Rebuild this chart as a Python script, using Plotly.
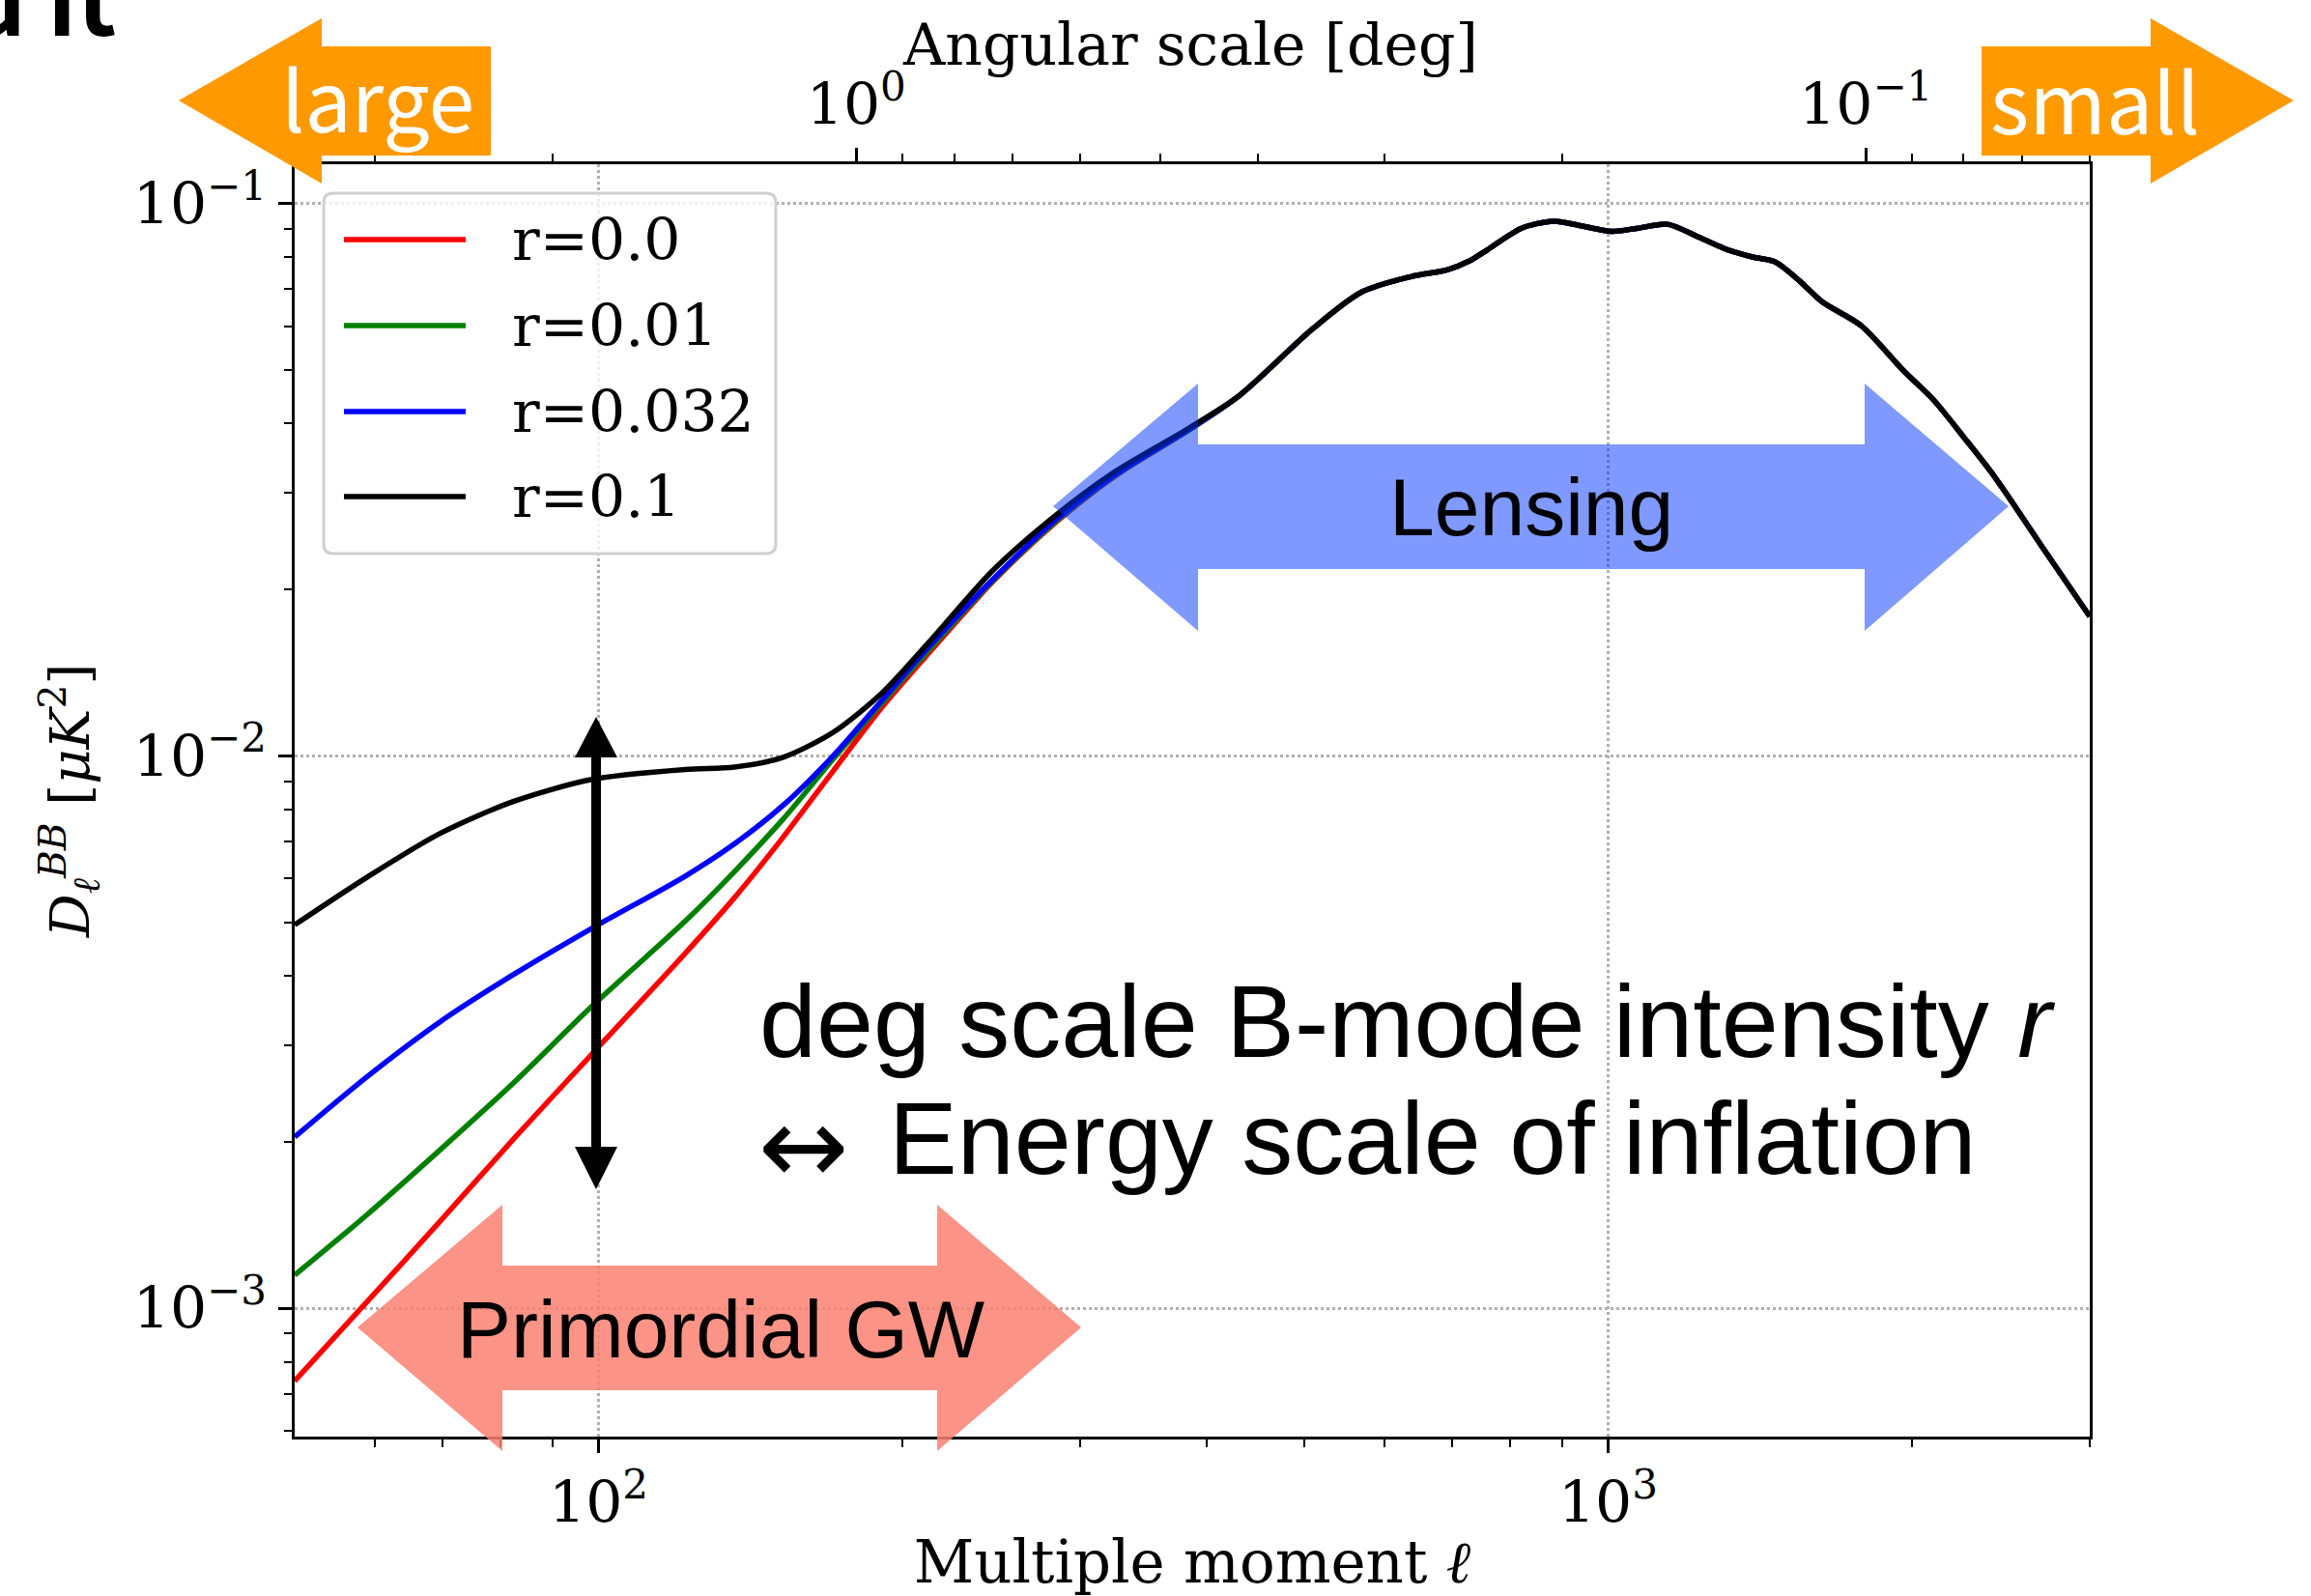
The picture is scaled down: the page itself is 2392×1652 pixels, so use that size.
import math
import plotly.graph_objects as go

# ---------------- data ----------------
ell = [50, 58.8, 69.6, 82.3, 98.5, 121.9, 136.3, 152.4, 170.6, 190.8, 212.6, 245.9,
       284.5, 325.4, 385, 431, 510, 570, 638, 694, 729, 760, 820, 883, 940, 1008,
       1070, 1145, 1230, 1314, 1390, 1463, 1545, 1630, 1780, 1963, 2104, 2253, 2413,
       2688, 3000]

high_ell_tail = [0.0449, 0.0594, 0.0692, 0.0738, 0.0760, 0.0788, 0.0826, 0.0902,
                 0.0930, 0.0912, 0.0891, 0.0903, 0.0918, 0.0870, 0.0825, 0.0801,
                 0.0785, 0.0727, 0.0664, 0.0602, 0.0498, 0.0440, 0.0377, 0.0321,
                 0.0240, 0.0179]

d_r0 = [7.39e-4, 1.022e-3, 1.435e-3, 2.023e-3, 2.887e-3, 4.398e-3, 5.537e-3, 7.137e-3,
        9.376e-3, 0.01225, 0.0154, 0.0207, 0.0266, 0.0322, 0.0390] + high_ell_tail
d_r001 = [1.149e-3, 1.471e-3, 1.933e-3, 2.557e-3, 3.524e-3, 5.028e-3, 6.175e-3, 7.694e-3,
          9.851e-3, 0.01247, 0.0156, 0.0208, 0.0267, 0.0323, 0.0390] + high_ell_tail
d_r0032 = [2.044e-3, 2.616e-3, 3.299e-3, 4.019e-3, 4.878e-3, 6.064e-3, 6.932e-3, 8.149e-3,
           9.991e-3, 0.01261, 0.0158, 0.0209, 0.0269, 0.0324, 0.0391] + high_ell_tail
d_r01 = [4.947e-3, 6.014e-3, 7.237e-3, 8.273e-3, 9.073e-3, 9.456e-3, 9.55e-3, 9.951e-3,
         0.01103, 0.0130, 0.0161, 0.0217, 0.0274, 0.0328, 0.0393] + high_ell_tail

series_names = ["r=0.0", "r=0.01", "r=0.032", "r=0.1"]
series_values = [d_r0, d_r001, d_r0032, d_r01]
series_colors = ["#ff0000", "#008000", "#0000ff", "#000000"]

x_major = [100, 1000]
x_major_text = ["10<sup>2</sup>", "10<sup>3</sup>"]
x_minor = [60, 70, 80, 90, 200, 300, 400, 500, 600, 700, 800, 900, 2000, 3000]
y_major = [1e-3, 1e-2, 1e-1]
y_major_text = ["10<sup>\u22123</sup>", "10<sup>\u22122</sup>", "10<sup>\u22121</sup>"]
y_minor = [6e-4, 7e-4, 8e-4, 9e-4] + [k * 1e-3 for k in range(2, 10)] + [k * 1e-2 for k in range(2, 10)]
t_major = [1, 0.1]
t_major_text = ["10<sup>0</sup>", "10<sup>\u22121</sup>"]
t_minor = [3, 2, 0.9, 0.8, 0.7, 0.6, 0.5, 0.4, 0.3, 0.2, 0.09, 0.08, 0.07, 0.06]

ELL_MIN, ELL_MAX = 50, 3000
D_MIN, D_MAX = 5.86e-4, 0.1179

# ---------------- geometry helpers ----------------
W, H = 2392, 1652
PL, PR, PT, PB = 305, 2163, 170, 1487


def paper(x, y):
    return (x - PL) / (PR - PL), (PB - y) / (PB - PT)


def poly(points):
    s = ""
    for i, (x, y) in enumerate(points):
        u, v = paper(x, y)
        s += ("M" if i == 0 else "L") + f"{u:.5f},{v:.5f} "
    return s + "Z"


SERIF = "DejaVu Serif"
SANS = "Liberation Sans, Arial, sans-serif"
JP = "Noto Sans CJK JP, Noto Sans, sans-serif"
LW = 5.5

fig = go.Figure()
for name, vals, col in zip(series_names, series_values, series_colors):
    fig.add_trace(go.Scatter(x=ell, y=vals, mode="lines", name=name,
                             line=dict(color=col, width=LW, shape="spline", smoothing=0.8),
                             showlegend=False, hoverinfo="skip"))
# carrier for the top (angular scale) axis
fig.add_trace(go.Scatter(x=[1], y=[0.01], xaxis="x2", yaxis="y", mode="markers",
                         marker=dict(opacity=0), showlegend=False, hoverinfo="skip"))

axis_common = dict(showline=True, linewidth=3, linecolor="black", ticks="outside",
                   ticklen=14, tickwidth=2.5, tickcolor="black", zeroline=False,
                   tickfont=dict(family=SERIF, size=60, color="black"))
grid = dict(showgrid=True, gridcolor="#b0b0b0", griddash="dot", gridwidth=2.5)
minor_common = dict(ticks="outside", ticklen=8, tickwidth=2, tickcolor="black", showgrid=False)

fig.update_layout(
    width=W, height=H, autosize=False,
    margin=dict(l=PL, r=W - PR, t=PT, b=H - PB, pad=0),
    paper_bgcolor="white", plot_bgcolor="white",
    showlegend=False,
    xaxis=dict(type="log", range=[math.log10(ELL_MIN), math.log10(ELL_MAX)],
               tickmode="array", tickvals=x_major, ticktext=x_major_text,
               minor=dict(tickmode="array", tickvals=x_minor, **minor_common),
               title=dict(text="Multiple moment <i>\u2113</i>",
                          font=dict(family=SERIF, size=61, color="black"), standoff=8),
               **axis_common, **grid),
    xaxis2=dict(type="log", overlaying="x", side="top", anchor="y",
                range=[math.log10(180 / ELL_MIN), math.log10(180 / ELL_MAX)],
                tickmode="array", tickvals=t_major, ticktext=t_major_text,
                minor=dict(tickmode="array", tickvals=t_minor, **minor_common),
                showgrid=False, **axis_common),
    yaxis=dict(type="log", range=[math.log10(D_MIN), math.log10(D_MAX)],
               tickmode="array", tickvals=y_major, ticktext=y_major_text,
               minor=dict(tickmode="array", tickvals=y_minor, **minor_common),
               mirror=True,
               title=dict(text="<i>D</i><sub><i>\u2113</i></sub><sup><i>BB</i></sup> [<i>\u03bcK</i><sup>2</sup>]",
                          font=dict(family=SERIF, size=56, color="black"), standoff=28),
               **axis_common, **grid),
)

shapes = []
# orange direction arrows (outside the axes)
shapes.append(dict(type="path", xref="paper", yref="paper", layer="above",
                   path=poly([(185, 104), (333, 19), (333, 48), (508, 48), (508, 161),
                              (333, 161), (333, 190)]),
                   fillcolor="#ff9900", line=dict(width=0)))
shapes.append(dict(type="path", xref="paper", yref="paper", layer="above",
                   path=poly([(2051, 48), (2226, 48), (2226, 19), (2374, 104), (2226, 190),
                              (2226, 161), (2051, 161)]),
                   fillcolor="#ff9900", line=dict(width=0)))
# lensing double arrow
shapes.append(dict(type="path", xref="paper", yref="paper", layer="above",
                   path=poly([(1090, 524), (1240, 397), (1240, 460), (1930, 460), (1930, 397),
                              (2079, 524), (1930, 653), (1930, 589), (1240, 589), (1240, 653)]),
                   fillcolor="rgba(0,51,255,0.5)", line=dict(width=0)))
# primordial GW double arrow
shapes.append(dict(type="path", xref="paper", yref="paper", layer="above",
                   path=poly([(370, 1374), (520, 1247), (520, 1310), (970, 1310), (970, 1247),
                              (1119, 1374), (970, 1502), (970, 1439), (520, 1439), (520, 1502)]),
                   fillcolor="rgba(250,128,114,0.85)", line=dict(width=0)))
# vertical black double arrow at ell = 100
shapes.append(dict(type="path", xref="paper", yref="paper", layer="above",
                   path=poly([(617, 742), (639, 784), (622, 784), (622, 1187), (639, 1187),
                              (617, 1231), (595, 1187), (612, 1187), (612, 784), (595, 784)]),
                   fillcolor="black", line=dict(width=0)))

# legend box (rounded)
bx0, by0, bx1, by1, rr = 335, 200, 803, 573, 10
u0, v0 = paper(bx0, by0)
u1, v1 = paper(bx1, by1)
ru = rr / (PR - PL)
rv = rr / (PB - PT)
legend_path = (f"M{u0+ru:.5f},{v0:.5f} L{u1-ru:.5f},{v0:.5f} Q{u1:.5f},{v0:.5f} {u1:.5f},{v0-rv:.5f} "
               f"L{u1:.5f},{v1+rv:.5f} Q{u1:.5f},{v1:.5f} {u1-ru:.5f},{v1:.5f} "
               f"L{u0+ru:.5f},{v1:.5f} Q{u0:.5f},{v1:.5f} {u0:.5f},{v1+rv:.5f} "
               f"L{u0:.5f},{v0-rv:.5f} Q{u0:.5f},{v0:.5f} {u0+ru:.5f},{v0:.5f} Z")
shapes.append(dict(type="path", xref="paper", yref="paper", layer="above", path=legend_path,
                   fillcolor="rgba(255,255,255,0.8)", line=dict(color="#d0d0d0", width=3)))

annotations = []
legend_rows = [248, 337, 426, 514]
for name, col, yy in zip(series_names, series_colors, legend_rows):
    a0, b0 = paper(356, yy)
    a1, _ = paper(482, yy)
    shapes.append(dict(type="line", xref="paper", yref="paper", layer="above",
                       x0=a0, x1=a1, y0=b0, y1=b0, line=dict(color=col, width=LW)))
    tx, ty = paper(528, yy)
    annotations.append(dict(x=tx, y=ty, xref="paper", yref="paper", text=name, showarrow=False,
                            xanchor="left", yanchor="middle",
                            font=dict(family=SERIF, size=60, color="black")))


def label(text, x, y, size, family, color="black", xanchor="center"):
    u, v = paper(x, y)
    annotations.append(dict(x=u, y=v, xref="paper", yref="paper", text=text, showarrow=False,
                            xanchor=xanchor, yanchor="middle",
                            font=dict(family=family, size=size, color=color)))


label("Angular scale [deg]", 1232, 46, 60, SERIF)
label("large", 391, 100, 86, JP, color="white")
label("small", 2168, 102, 86, JP, color="white")
label("Lensing", 1585, 525, 84, SANS)
label("Primordial GW", 746, 1376, 84, SANS)
label("deg scale B-mode intensity <i>r</i>", 784, 1057, 106, SANS, xanchor="left")
label("\u2194", 832, 1186, 112, "DejaVu Sans")
label("Energy scale of inflation", 918, 1178, 106, SANS, xanchor="left")
label("<b>d it</b>", -38, -6, 98, JP, xanchor="left")

fig.update_layout(shapes=shapes, annotations=annotations)
fig.write_html("out.html")
